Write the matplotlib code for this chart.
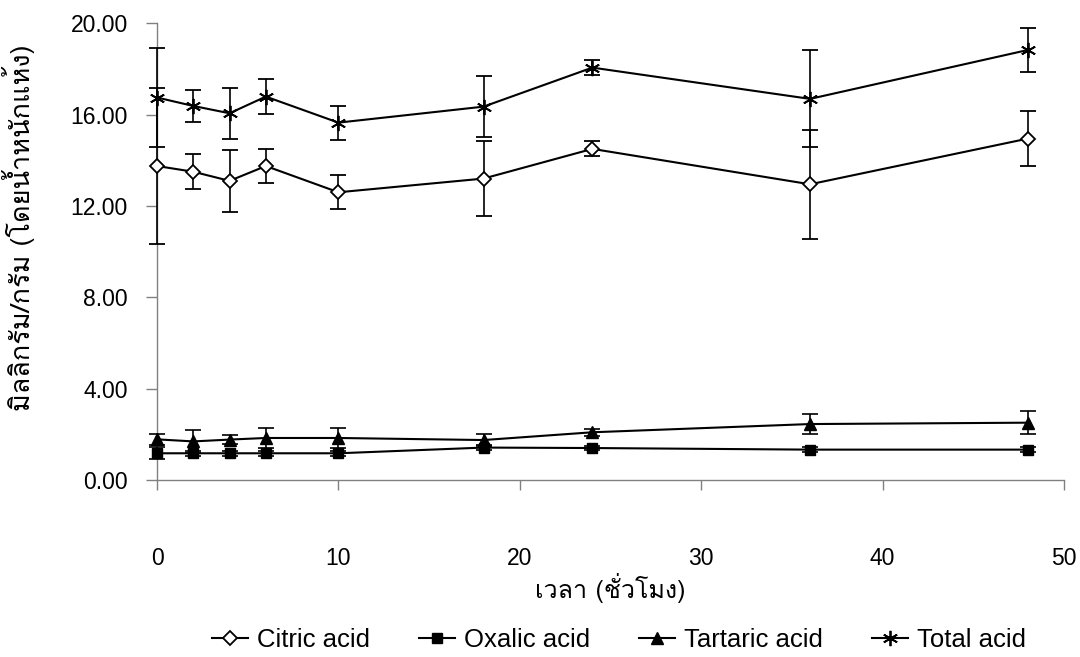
import matplotlib
matplotlib.use("Agg")
import matplotlib.pyplot as plt
from matplotlib import font_manager
from matplotlib.lines import Line2D

# ---------------- data ----------------
hours = [0, 2, 4, 6, 10, 18, 24, 36, 48]
citric = [13.75, 13.50, 13.10, 13.75, 12.60, 13.20, 14.50, 12.95, 14.95]
citric_err = [3.40, 0.76, 1.35, 0.76, 0.75, 1.65, 0.33, 2.38, 1.22]
oxalic = [1.17, 1.17, 1.17, 1.17, 1.17, 1.42, 1.40, 1.33, 1.33]
oxalic_err = [0.26, 0.12, 0.12, 0.10, 0.12, 0.10, 0.10, 0.10, 0.10]
tartaric = [1.78, 1.69, 1.77, 1.84, 1.84, 1.75, 2.09, 2.45, 2.51]
tartaric_err = [0.25, 0.50, 0.20, 0.44, 0.44, 0.28, 0.15, 0.42, 0.50]
total = [16.75, 16.38, 16.06, 16.79, 15.65, 16.35, 18.06, 16.69, 18.83]
total_err = [2.17, 0.72, 1.12, 0.76, 0.75, 1.35, 0.33, 2.12, 0.98]

series_names = ["Citric acid", "Oxalic acid", "Tartaric acid", "Total acid"]
x_ticks = [0, 10, 20, 30, 40, 50]
y_ticks = [0, 4, 8, 12, 16, 20]
x_label = "เวลา (ชั่วโมง)"
y_label = "มิลลิกรัม/กรัม (โดยน้ำหนักแห้ง)"


def find_thai_font():
    try:
        from fontTools.ttLib import TTFont
    except Exception:
        return None
    seen = set()
    for f in font_manager.fontManager.ttflist:
        if f.fname in seen:
            continue
        seen.add(f.fname)
        try:
            tt = TTFont(f.fname, fontNumber=0, lazy=True)
            cmap = tt.getBestCmap()
            if cmap and ord("ว") in cmap and ord("ั") in cmap and ord("ง") in cmap:
                return f.name
        except Exception:
            continue
    return None


thai = find_thai_font()
base = "Liberation Sans"
families = [base] + ([thai] if thai else []) + ["DejaVu Sans"]
thai_families = ([thai] if thai else []) + [base, "DejaVu Sans"]
plt.rcParams["font.family"] = families

fig = plt.figure(figsize=(10.8, 6.57), dpi=100)
ax = fig.add_axes([157 / 1080, 1 - 480 / 657, (1064 - 157) / 1080, (480 - 23.3) / 657])

line_kw = dict(color="black", lw=1.5, ecolor="black", elinewidth=1.2,
               capsize=5.5, capthick=1.2, clip_on=False)

ax.errorbar(hours, citric, yerr=citric_err, marker="D", ms=7.5, mfc="white",
            mec="black", mew=1.3, zorder=4, **line_kw)
ax.errorbar(hours, oxalic, yerr=oxalic_err, marker="s", ms=7, mfc="black",
            mec="black", zorder=4, **line_kw)
ax.errorbar(hours, tartaric, yerr=tartaric_err, marker="^", ms=8.5, mfc="black",
            mec="black", zorder=4, **line_kw)
ax.errorbar(hours, total, yerr=total_err, marker=(6, 2, 0), ms=11,
            mec="black", mew=1.3, zorder=4, **line_kw)

ax.set_xlim(0, 50)
ax.set_ylim(0, 20)
ax.set_xticks(x_ticks)
ax.set_yticks(y_ticks)
ax.set_yticklabels([f"{v:.2f}" for v in y_ticks])
ax.set_xticklabels([str(v) for v in x_ticks])

for s in ["top", "right"]:
    ax.spines[s].set_visible(False)
for s in ["left", "bottom"]:
    ax.spines[s].set_color("#808080")
    ax.spines[s].set_linewidth(1.0)

ax.tick_params(axis="y", direction="out", length=8, width=1, color="#808080",
               labelsize=16.5, pad=13)
ax.tick_params(axis="x", direction="out", length=7.5, width=1, color="#808080",
               labelsize=16.5, pad=41)

ax.set_xlabel(x_label, fontsize=18, family=thai_families, labelpad=2)
ax.set_ylabel(y_label, fontsize=19.5, family=thai_families)
ax.yaxis.set_label_coords((35 - 157) / 907, (480 - 228) / 457)

handles = [
    Line2D([], [], color="black", lw=1.5, marker="D", ms=7.5, mfc="white", mec="black", mew=1.3),
    Line2D([], [], color="black", lw=1.5, marker="s", ms=7, mfc="black", mec="black"),
    Line2D([], [], color="black", lw=1.5, marker="^", ms=8.5, mfc="black", mec="black"),
    Line2D([], [], color="black", lw=1.5, marker=(6, 2, 0), ms=11, mec="black", mew=1.3),
]
fig.legend(handles, series_names, loc="center", bbox_to_anchor=(619 / 1080, 1 - 640 / 657),
           ncol=4, frameon=False, fontsize=18.5, handlelength=1.4, handletextpad=0.35,
           columnspacing=1.9, borderaxespad=0)

fig.savefig("out.png", dpi=100)
